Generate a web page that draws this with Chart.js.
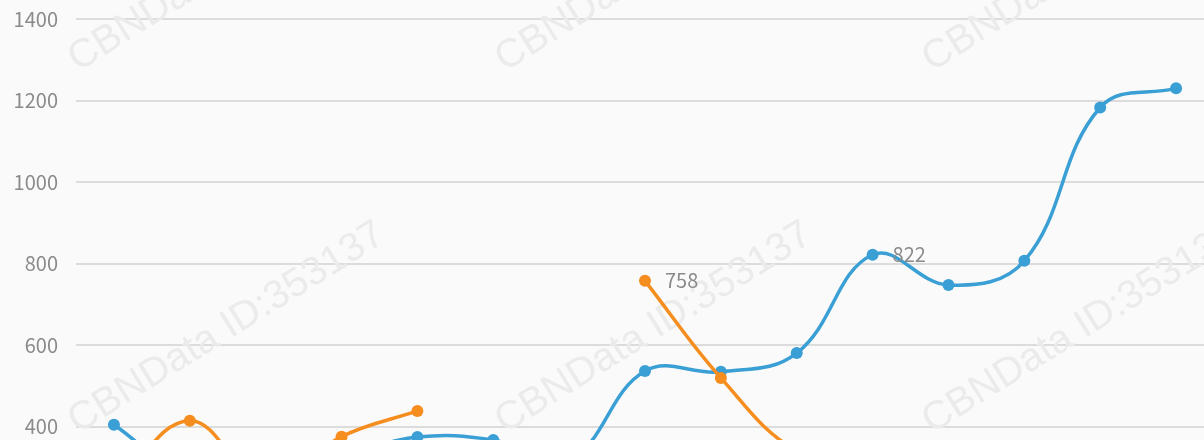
<!DOCTYPE html>
<html>
<head>
<meta charset="utf-8">
<script src="https://cdn.jsdelivr.net/npm/chart.js@4.4.0/dist/chart.umd.min.js"></script>
<style>
  html, body { margin: 0; padding: 0; background: #fafafa; overflow: hidden; }
  #wrap { width: 1220px; height: 640px; }
</style>
</head>
<body>
<div id="wrap"><canvas id="myLineChart" width="1220" height="640"></canvas></div>
<script>
// data kategori & nilai
var categories = ['2005', '2006', '2007', '2008', '2009', '2010', '2011', '2012', '2013', '2014', '2015', '2016', '2017', '2018', '2019'];
var blueValues = [405, 280, 300, 330, 375, 368, 320, 537, 535, 581, 822, 748, 807, 1183, 1230];
var orangeValues = [250, 415, 260, 376, 439, null, null, 758, 520, 340, 298, null, null, null, null];
var yTicks = [0, 200, 400, 600, 800, 1000, 1200, 1400];

// label angka yang ditampilkan di samping titik
var blueLabelIdx = [10];
var orangeLabelIdx = [7, 10];

// plugin watermark
var watermark = {
    id: 'watermark',
    beforeDatasetsDraw: function(chart) {
        var ctx = chart.ctx;
        ctx.save();
        ctx.font = '40px "Liberation Sans"';
        ctx.fillStyle = '#ebebeb';
        ctx.textBaseline = 'alphabetic';
        ctx.textAlign = 'left';
        for (var r = -1; r < 3; r++) {
            for (var c = 0; c < 3; c++) {
                ctx.save();
                ctx.translate(78 + c * 427, 72 + r * 362);
                ctx.rotate(-32 * Math.PI / 180);
                ctx.fillText('CBNData ID:353137', 0, 0);
                ctx.restore();
            }
        }
        ctx.restore();
    }
};

// plugin label nilai
var valueLabels = {
    id: 'valueLabels',
    afterDatasetsDraw: function(chart) {
        var ctx = chart.ctx;
        ctx.save();
        ctx.font = '20px "Noto Sans CJK SC"';
        ctx.fillStyle = '#8a8a8a';
        ctx.textBaseline = 'middle';
        ctx.textAlign = 'left';
        var lists = [orangeLabelIdx, blueLabelIdx];
        chart.data.datasets.forEach(function(ds, di) {
            var meta = chart.getDatasetMeta(di);
            lists[di].forEach(function(i) {
                var pt = meta.data[i];
                ctx.fillText(String(ds.data[i]), pt.x + 20, pt.y);
            });
        });
        ctx.restore();
    }
};

document.addEventListener("DOMContentLoaded", function() {
    var ctx = document.getElementById('myLineChart').getContext('2d');
    new Chart(ctx, {
        type: 'line',
        data: {
            labels: categories,
            datasets: [{
                    label: 'B',
                    data: orangeValues,
                    borderColor: '#f68d1f',
                    backgroundColor: '#f68d1f',
                    borderWidth: 3.5,
                    pointRadius: 6,
                    pointBorderWidth: 0,
                    tension: 0.4,
                    spanGaps: false
                },
                {
                    label: 'A',
                    data: blueValues,
                    borderColor: '#3a9fd5',
                    backgroundColor: '#3a9fd5',
                    borderWidth: 3.5,
                    pointRadius: 6,
                    pointBorderWidth: 0,
                    tension: 0.4
                }
            ]
        },
        options: {
            responsive: false,
            animation: false,
            layout: { padding: { top: 19, right: 6, bottom: 10, left: 0 } },
            plugins: {
                legend: { display: false },
                tooltip: { enabled: false }
            },
            scales: {
                x: {
                    offset: true,
                    grid: { display: false },
                    border: { display: false },
                    ticks: { color: '#8a8a8a', font: { size: 20, family: '"Noto Sans CJK SC"' } },
                    afterFit: function(scale) { scale.height = 40; }
                },
                y: {
                    min: 0,
                    max: 1400,
                    afterBuildTicks: function(scale) {
                        scale.ticks = yTicks.map(function(v) { return { value: v }; });
                    },
                    grid: { color: '#dcdcdc', lineWidth: 2, drawTicks: false },
                    border: { display: false },
                    ticks: {
                        color: '#8a8a8a',
                        padding: 18,
                        font: { size: 20, family: '"Noto Sans CJK SC"' },
                        callback: function(v) { return String(v); }
                    },
                    afterFit: function(scale) {
                        scale.width = 76;
                        scale.paddingTop = 0;
                        scale.paddingBottom = 0;
                    }
                }
            }
        },
        plugins: [watermark, valueLabels]
    });
});
</script>
</body>
</html>
